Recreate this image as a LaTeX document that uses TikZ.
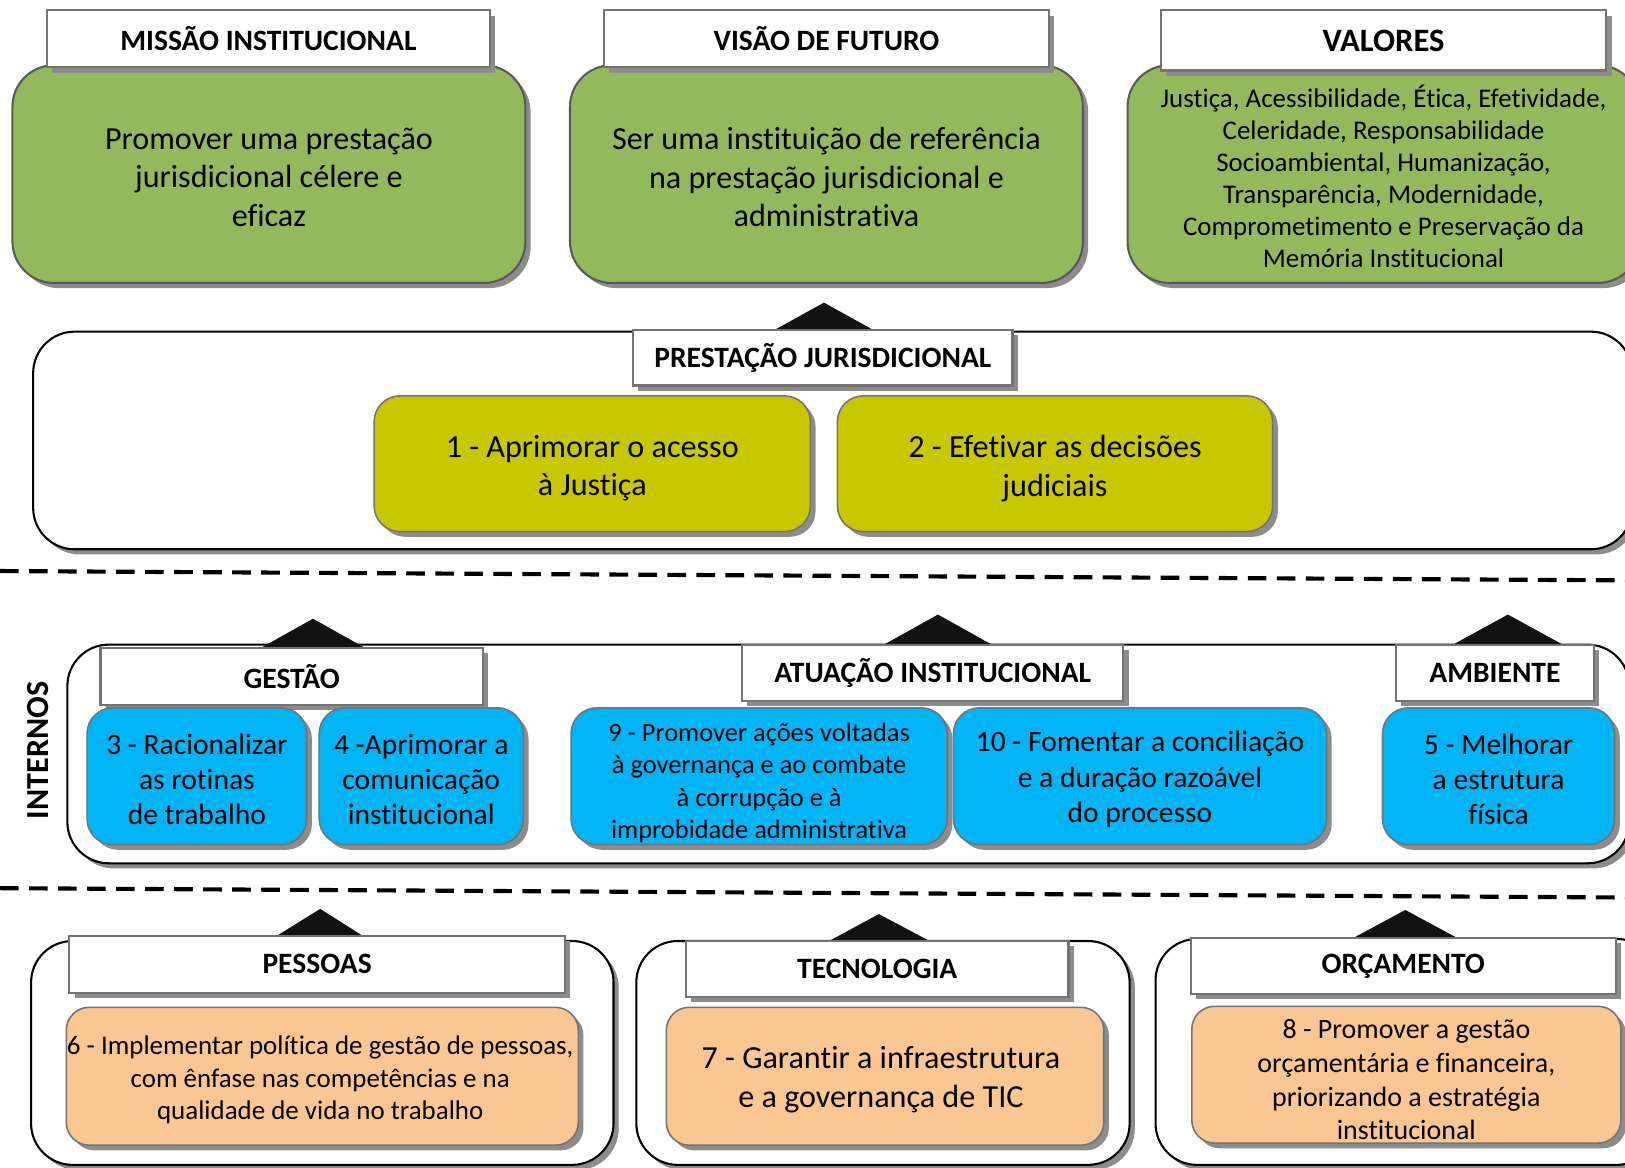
\documentclass[tikz,border=0pt]{standalone}
\usepackage{fontspec}
\setmainfont{Carlito}[Ligatures={NoCommon,NoContextual},Contextuals=NoAlternate]
\usetikzlibrary{shadows}
\definecolor{gr}{HTML}{92BA5C}
\definecolor{ye}{HTML}{C8C800}
\definecolor{bl}{HTML}{00B4F5}
\definecolor{orx}{HTML}{FAC792}
\newcommand{\fs}[2]{\fontsize{#1}{#2}\selectfont}
\newcommand{\nlg}{\kern0pt\relax}
\tikzset{
  shad/.style={drop shadow={shadow xshift=5pt,shadow yshift=-5pt,fill=black!45,opacity=1}},
  container/.style={draw=black, line width=2pt, fill=white, rounded corners=40pt, shad},
  titlebox/.style={draw=black!55, line width=2pt, fill=white, shad, inner sep=0pt, font=\bfseries\fs{28.5}{32}},
  greenbox/.style={draw=black!65, line width=2pt, fill=gr, rounded corners=40pt, shad},
  yellowbox/.style={draw=black!55, line width=1.5pt, fill=ye, rounded corners=25pt, shad},
  bluebox/.style={draw=black!55, line width=1.5pt, fill=bl, rounded corners=25pt, shad},
  orangebox/.style={draw=black!55, line width=1.5pt, fill=orx, rounded corners=22pt, shad},
  txt/.style={align=center, inner sep=0pt},
  sep/.style={line width=4pt, dash pattern=on 18pt off 10pt},
  tri/.style={fill=black!93}
}
\begin{document}
\begin{tikzpicture}[x=1pt,y=-1pt]
\useasboundingbox (0,0) rectangle (1568,1127);
\begin{scope}
\clip (0,0) rectangle (1568,1127);
% ---------- top row
\node[greenbox, minimum width=495pt, minimum height=210pt] (mg) at (259.5,168) {};
\node[txt, font=\fs{31}{37}] (mgx) at (259.5,171) {Promover uma prestação\\jurisdicional célere e\\ef\nlg icaz};
\node[titlebox, minimum width=428pt, minimum height=55pt] (mt) at (259,37.5) {MISSÃO INSTITUCIONAL};
\node[greenbox, minimum width=495pt, minimum height=210pt] (vg) at (797.5,168) {};
\node[txt, font=\fs{31}{37}] (vgx) at (797.5,171) {Ser uma inst\nlg itu\nlg ição de referência\\na prestação jurisdicional e\\administrat\nlg iva};
\node[titlebox, minimum width=429pt, minimum height=55pt] (vt) at (797.5,37.5) {VISÃO DE FUTURO};
\node[greenbox, minimum width=494pt, minimum height=210pt] (lg) at (1335,168) {};
\node[txt, font=\fs{26}{31}] (lgx) at (1335,170) {Just\nlg iça, Acessibilidade, Ética, Efet\nlg ividade,\\Celeridade, Responsabilidade\\Socioambiental, Humanização,\\Transparência, Modernidade,\\Comprometimento e Preservação da\\Memória Inst\nlg itucional};
\node[titlebox, minimum width=430pt, minimum height=58pt, font=\bfseries\fs{31.5}{34}] (lt) at (1335,39) {VALORES};
% ---------- prestação jurisdicional
\node[container, minimum width=1543pt, minimum height=210pt] (pc) at (803.5,425) {};
\fill[tri] (748,318) -- (795,292) -- (842,318) -- cycle;
\node[titlebox, minimum width=366pt, minimum height=54pt] (pt) at (794,345) {PRESTAÇÃO JURISDICIONAL};
\node[yellowbox, minimum width=421pt, minimum height=131pt] (y1) at (571.5,447.5) {};
\node[txt, font=\fs{31}{37}] (y1x) at (571.5,452) {1 - Aprimorar o acesso\\à Just\nlg iça};
\node[yellowbox, minimum width=420pt, minimum height=131pt] (y2) at (1018,447.5) {};
\node[txt, font=\fs{31}{37}] (y2x) at (1018,452) {2 - Efet\nlg ivar as decisões\\judiciais};
% ---------- separators
\coordinate (s1a) at (0,551); \coordinate (s1b) at (1568,560);
\draw[sep] (s1a) -- (s1b);
\coordinate (s2a) at (0,857); \coordinate (s2b) at (1568,866);
\draw[sep] (s2a) -- (s2b);
% ---------- internos
\node[rotate=90, font=\bfseries\fs{31}{33}] (internos) at (37,724) {INTERNOS};
\node[container, minimum width=1507pt, minimum height=211pt] (ic) at (818.5,727.5) {};
\fill[tri] (252,625) -- (302,597) -- (352,625) -- cycle;
\fill[tri] (853,622) -- (905,593) -- (957,622) -- cycle;
\fill[tri] (1402,622) -- (1455,593) -- (1508,622) -- cycle;
\node[titlebox, minimum width=369pt, minimum height=55pt] (gt) at (281.5,652.5) {GESTÃO};
\node[titlebox, minimum width=368pt, minimum height=54pt] (at) at (900,649) {ATUAÇÃO INSTITUCIONAL};
\node[titlebox, minimum width=191pt, minimum height=54pt] (amt) at (1442.5,649) {AMBIENTE};
\node[bluebox, minimum width=212pt, minimum height=132pt] (b3) at (190,749) {};
\node[txt, font=\fs{28.5}{34}] (b3x) at (190,752) {3 - Racionalizar\\as rot\nlg inas\\de trabalho};
\node[bluebox, minimum width=197pt, minimum height=132pt] (b4) at (406.5,749) {};
\node[txt, font=\fs{28.5}{34}] (b4x) at (406.5,752) {4 -Aprimorar a\\comunicação\\inst\nlg itucional};
\node[bluebox, minimum width=363pt, minimum height=132pt] (b9) at (732.5,749) {};
\node[txt, font=\fs{25.5}{31}] (b9x) at (732.5,755.5) {9 - Promover ações voltadas\\à governança e ao combate\\à corrupção e à\\improbidade administrat\nlg iva};
\node[bluebox, minimum width=360pt, minimum height=132pt] (b10) at (1100,749) {};
\node[txt, font=\fs{28.5}{34}] (b10x) at (1100,752) {10 - Fomentar a conciliação\\e a duração razoável\\do processo};
\node[bluebox, minimum width=224pt, minimum height=132pt] (b5) at (1446,749) {};
\node[txt, font=\fs{28.5}{34}] (b5x) at (1446,752) {5 - Melhorar\\a estrutura\\f\nlg ísica};
% ---------- bottom row
\node[container, minimum width=562pt, minimum height=216pt] (pec) at (311,1016) {};
\node[container, minimum width=476pt, minimum height=216pt] (tec) at (852,1016) {};
\node[container, minimum width=485pt, minimum height=218pt] (orc) at (1357.5,1015) {};
\fill[tri] (267,903) -- (309,877) -- (350,903) -- cycle;
\fill[tri] (800,908) -- (848,882) -- (897,908) -- cycle;
\fill[tri] (1306,905) -- (1356,878) -- (1406,905) -- cycle;
\node[titlebox, minimum width=478pt, minimum height=55pt] (pet) at (306,930.5) {PESSOAS};
\node[titlebox, minimum width=369pt, minimum height=54pt] (tet) at (846.5,935) {TECNOLOGIA};
\node[titlebox, minimum width=410pt, minimum height=54pt] (ort) at (1354,932) {ORÇAMENTO};
\node[orangebox, minimum width=494pt, minimum height=133pt] (o6) at (311,1038.5) {};
\node[txt, font=\fs{26}{31}] (o6x) at (309,1042) {6 - Implementar polít\nlg ica de gestão de pessoas,\\com ênfase nas competências e na\\qualidade de vida no trabalho};
\node[orangebox, minimum width=422pt, minimum height=133pt] (o7) at (854,1038.5) {};
\node[txt, font=\fs{31}{38}] (o7x) at (850,1042) {7 - Garant\nlg ir a infraestrutura\\e a governança de TIC};
\node[orangebox, minimum width=414pt, minimum height=132pt] (o8) at (1357,1037) {};
\node[txt, font=\fs{27}{32.5}] (o8x) at (1357,1042) {8 - Promover a gestão\\orçamentária e f\nlg inanceira,\\priorizando a estratégia\\inst\nlg itucional};
\end{scope}
\end{tikzpicture}
\end{document}
